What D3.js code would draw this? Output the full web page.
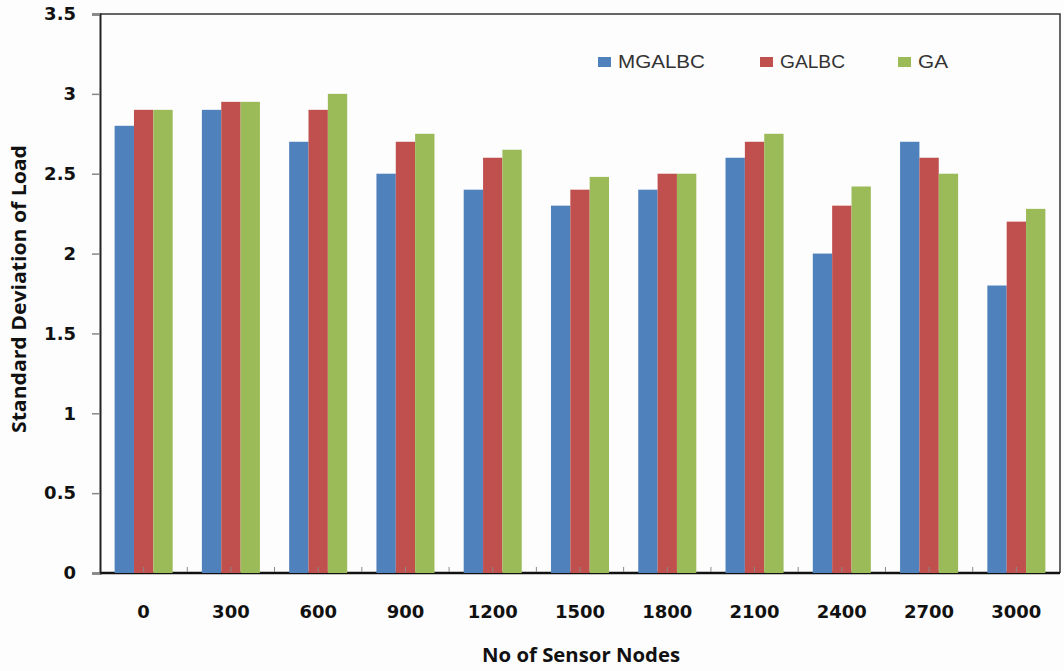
<!DOCTYPE html>
<html>
<head>
<meta charset="utf-8">
<script src="https://cdn.jsdelivr.net/npm/d3@7"></script>
<style>
  html, body { margin: 0; padding: 0; background: #fdfdfd; }
  svg { display: block; }
</style>
</head>
<body>
<svg id="chart" width="1064" height="671"></svg>
<script>
// Number of sensor nodes on the x axis
const nodes = ["0", "300", "600", "900", "1200", "1500", "1800", "2100", "2400", "2700", "3000"];
// Standard deviation of load per algorithm
const mgalbc = [2.8, 2.9, 2.7, 2.5, 2.4, 2.3, 2.4, 2.6, 2.0, 2.7, 1.8];
const galbc  = [2.9, 2.95, 2.9, 2.7, 2.6, 2.4, 2.5, 2.7, 2.3, 2.6, 2.2];
const ga     = [2.9, 2.95, 3.0, 2.75, 2.65, 2.48, 2.5, 2.75, 2.42, 2.5, 2.28];
const seriesNames = ["MGALBC", "GALBC", "GA"];
const seriesColors = ["#4f81bd", "#c0504d", "#9bbb59"];
const yTicks = [0, 0.5, 1, 1.5, 2, 2.5, 3, 3.5];

const series = [mgalbc, galbc, ga];
const svg = d3.select("#chart");
const plotL = 100, plotR = 1060, plotT = 14, plotB = 573;

const x0 = d3.scaleBand().domain(nodes).range([plotL, plotR])
  .paddingInner(0.335).paddingOuter(0.1675);
const x1 = d3.scaleBand().domain(seriesNames).range([0, x0.bandwidth()]);
const y = d3.scaleLinear().domain([0, 3.5]).range([plotB, plotT]);

// Plot frame: top and right edges
svg.append("path")
  .attr("d", `M${plotL},${plotT}H${plotR}V${plotB}`)
  .attr("fill", "none").attr("stroke", "#333").attr("stroke-width", 1.5);

// Category axis line
svg.append("line")
  .attr("x1", plotL).attr("x2", plotR).attr("y1", plotB).attr("y2", plotB)
  .attr("stroke", "#111").attr("stroke-width", 2.5);

// Bars
const groups = svg.append("g").selectAll("g")
  .data(nodes)
  .join("g")
  .attr("transform", d => `translate(${x0(d)},0)`);

groups.selectAll("rect")
  .data((d, i) => series.map((s, k) => ({ name: seriesNames[k], value: s[i], color: seriesColors[k] })))
  .join("rect")
  .attr("x", d => x1(d.name))
  .attr("width", x1.bandwidth())
  .attr("y", d => y(d.value))
  .attr("height", d => plotB - y(d.value))
  .attr("fill", d => d.color);

// Small inner ticks on the category axis (centres and boundaries)
const step = x0.step();
const tickXs = [];
nodes.forEach((d, i) => {
  tickXs.push(plotL + step * (i + 0.5));
  if (i > 0) tickXs.push(plotL + step * i);
});
svg.append("g").selectAll("line")
  .data(tickXs)
  .join("line")
  .attr("x1", d => d).attr("x2", d => d)
  .attr("y1", plotB - 1).attr("y2", plotB - 6)
  .attr("stroke", "#888").attr("stroke-width", 1);

// Value axis
const yAxis = svg.append("g")
  .attr("transform", `translate(${plotL},0)`)
  .call(d3.axisLeft(y).tickValues(yTicks).tickSize(8).tickPadding(16)
    .tickFormat(d3.format("")));
yAxis.select(".domain").attr("stroke", "#222").attr("stroke-width", 2);
yAxis.selectAll(".tick line").attr("stroke", "#888").attr("stroke-width", 1.5);
yAxis.selectAll(".tick text")
  .attr("font-family", "DejaVu Sans")
  .attr("font-weight", "bold")
  .attr("font-size", 18)
  .attr("fill", "#111");

// Category labels
svg.append("g").selectAll("text")
  .data(nodes)
  .join("text")
  .attr("x", d => x0(d) + x0.bandwidth() / 2)
  .attr("y", 618)
  .attr("text-anchor", "middle")
  .attr("font-family", "DejaVu Sans")
  .attr("font-weight", "bold")
  .attr("font-size", 18)
  .attr("fill", "#111")
  .text(d => d);

// Axis titles
svg.append("text")
  .attr("x", 581).attr("y", 662)
  .attr("text-anchor", "middle")
  .attr("font-family", "Open Sans")
  .attr("font-weight", "bold")
  .attr("font-size", 20)
  .attr("fill", "#111")
  .attr("textLength", 198).attr("lengthAdjust", "spacingAndGlyphs")
  .text("No of Sensor Nodes");

svg.append("text")
  .attr("transform", "translate(26,289) rotate(-90)")
  .attr("text-anchor", "middle")
  .attr("font-family", "Open Sans")
  .attr("font-weight", "bold")
  .attr("font-size", 20)
  .attr("fill", "#111")
  .attr("textLength", 288).attr("lengthAdjust", "spacingAndGlyphs")
  .text("Standard Deviation of Load");

// Legend
const legendX = [598, 760, 898];
const legendW = [87, 65, 30];
const legend = svg.append("g").selectAll("g")
  .data(seriesNames)
  .join("g")
  .attr("transform", (d, i) => `translate(${legendX[i]},0)`);
legend.append("rect")
  .attr("x", 0).attr("y", 57).attr("width", 13).attr("height", 10)
  .attr("fill", (d, i) => seriesColors[i]);
legend.append("text")
  .attr("x", 20).attr("y", 68)
  .attr("font-family", "Liberation Sans")
  .attr("font-size", 18)
  .attr("fill", "#333")
  .attr("textLength", (d, i) => legendW[i]).attr("lengthAdjust", "spacingAndGlyphs")
  .text(d => d);
</script>
</body>
</html>
